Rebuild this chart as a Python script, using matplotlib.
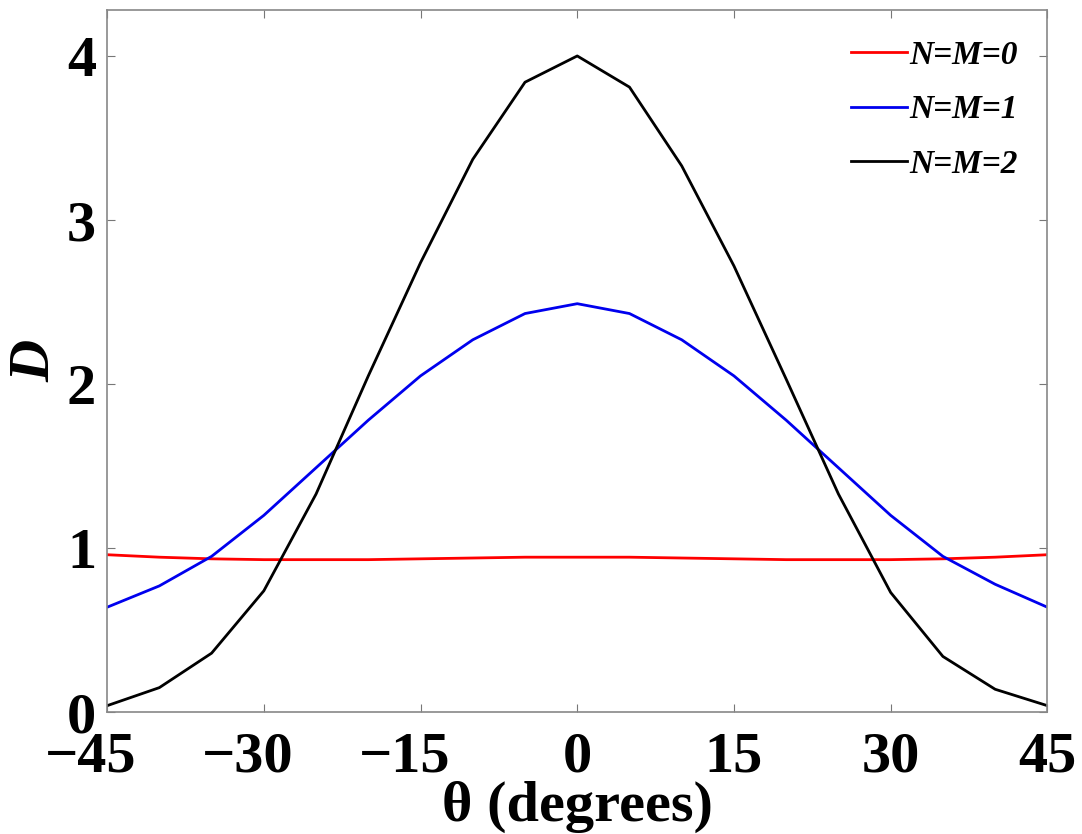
"""Directivity D versus angle for N=M=0,1,2."""
from matplotlib import pyplot as plt
from matplotlib import transforms

theta = [-45, -40, -35, -30, -25, -20, -15, -10, -5, 0, 5, 10, 15, 20, 25, 30, 35, 40, 45]
d_nm0 = [0.96, 0.945, 0.935, 0.93, 0.93, 0.93, 0.935, 0.94, 0.945, 0.945,
         0.945, 0.94, 0.935, 0.93, 0.93, 0.93, 0.935, 0.945, 0.96]
d_nm1 = [0.64, 0.77, 0.95, 1.2, 1.49, 1.78, 2.05, 2.27, 2.43, 2.49,
         2.43, 2.27, 2.05, 1.78, 1.49, 1.2, 0.95, 0.78, 0.64]
d_nm2 = [0.04, 0.15, 0.36, 0.74, 1.33, 2.05, 2.74, 3.37, 3.84, 4.0,
         3.81, 3.33, 2.72, 2.03, 1.33, 0.73, 0.34, 0.14, 0.04]
labels = ['N=M=0', 'N=M=1', 'N=M=2']
xticks = [-45, -30, -15, 0, 15, 30, 45]
yticks = [0, 1, 2, 3, 4]

plt.rcParams['font.family'] = ['Liberation Serif', 'DejaVu Serif']
fig = plt.figure(figsize=(10.82, 8.34), dpi=100)
ax = fig.add_axes([0.099, 0.146, 0.869, 0.842])

ax.plot(theta, d_nm0, color='#ff0000', lw=2, label=labels[0])
ax.plot(theta, d_nm1, color='#0000ee', lw=2, label=labels[1])
ax.plot(theta, d_nm2, color='black', lw=2, label=labels[2])

ax.set_xlim(-45, 45)
ax.set_ylim(0, 4.28)
ax.set_xticks(xticks)
ax.set_yticks(yticks)
ax.tick_params(direction='in', length=6, width=0.8, color='#777777',
               top=True, right=True, labelsize=42)
ax.tick_params(axis='x', pad=14)
ax.tick_params(axis='y', pad=8)
for lab in ax.get_xticklabels() + ax.get_yticklabels():
    lab.set_fontweight('bold')
# digits sit centred on the tick, minus sign hangs to the left
shift = transforms.ScaledTranslation(-0.16, 0, fig.dpi_scale_trans)
for val, lab in zip(xticks, ax.get_xticklabels()):
    if val < 0:
        lab.set_transform(lab.get_transform() + shift)
for sp in ax.spines.values():
    sp.set_color('#888888')
    sp.set_linewidth(1.2)

ax.set_xlabel('\u03b8 (degrees)', fontsize=42, fontweight='bold', labelpad=-2)
ax.set_ylabel('D', fontsize=42, fontweight='bold', style='italic', labelpad=4)

leg = ax.legend(loc='upper right', frameon=False, handlelength=1.7, handletextpad=0.05,
                labelspacing=0.7, borderaxespad=0.5,
                prop={'family': 'Liberation Serif', 'weight': 'bold', 'style': 'italic', 'size': 24})

plt.savefig('out.png', dpi=100)
